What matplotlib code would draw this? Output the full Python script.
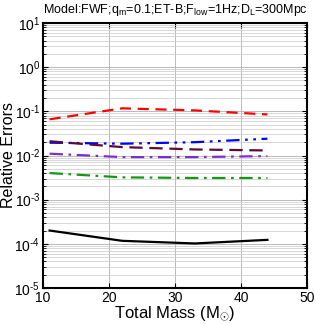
import matplotlib
matplotlib.use('Agg')
import matplotlib.pyplot as plt
from matplotlib.ticker import FuncFormatter
import numpy as np

plt.rcParams['font.family'] = ['Liberation Sans', 'DejaVu Sans']
plt.rcParams['mathtext.fontset'] = 'custom'
plt.rcParams['mathtext.rm'] = 'Liberation Sans'
plt.rcParams['mathtext.it'] = 'Liberation Sans:italic'

# total mass values (M_sun)
mass = [11, 22, 33, 44]

# relative errors, one list per curve
err_red = [0.066, 0.117, 0.105, 0.085]
err_blue = [0.0195, 0.0185, 0.020, 0.024]
err_maroon = [0.021, 0.0155, 0.0137, 0.013]
err_purple = [0.011, 0.0092, 0.0092, 0.0097]
err_green = [0.004, 0.0032, 0.0031, 0.0031]
err_black = [0.0002, 0.000117, 0.000102, 0.000123]

fig = plt.figure(figsize=(3.16, 3.24), dpi=100)
ax = fig.add_axes([43/316, 1 - 288/324, 264/316, 265/324])

ax.plot(mass, err_red, color='red', lw=1.6, dashes=(5, 3))
ax.plot(mass, err_blue, color='blue', lw=1.6, dashes=(6, 2.5, 1.2, 2.5, 1.2, 2.5))
ax.plot(mass, err_maroon, color='#5c0a3c', lw=1.6, dashes=(6, 3))
ax.plot(mass, err_purple, color='#7b2fd0', lw=1.6, dashes=(6, 2.5, 1.2, 2.5))
ax.plot(mass, err_green, color='#119911', lw=1.6, dashes=(6, 2.5, 1.2, 2.5))
ax.plot(mass, err_black, color='black', lw=1.6)

ax.set_yscale('log')
ax.set_xlim(10, 50)
ax.set_ylim(1e-5, 1e1)
ax.set_xticks([10, 20, 30, 40, 50])
ax.set_yticks([1e-5, 1e-4, 1e-3, 1e-2, 1e-1, 1e0, 1e1])


def pow_label(v, pos):
    e = int(round(np.log10(v)))
    return r'$10^{\text{%d}}$' % e


ax.yaxis.set_major_formatter(FuncFormatter(pow_label))
ax.grid(True, which='major', color='#b0b0b0', lw=0.6)
ax.grid(True, which='minor', axis='y', color='#c8c8c8', lw=0.5)
ax.tick_params(which='both', direction='in', top=True, right=True, labelsize=10, pad=2)
for s in ax.spines.values():
    s.set_linewidth(1.5)

ax.set_xlabel(r'Total Mass (M$_{\odot}$)', fontsize=12, labelpad=0)
ax.set_ylabel('Relative Errors', fontsize=11.5)
ax.yaxis.set_label_coords(-0.103, 0.5)
ax.set_title(r'Model:FWF;q$_{\rm m}$=0.1;ET-B;F$_{\rm low}$=1Hz;D$_{\rm L}$=300Mpc',
             fontsize=9, pad=7)

fig.savefig('out.png', dpi=100)
